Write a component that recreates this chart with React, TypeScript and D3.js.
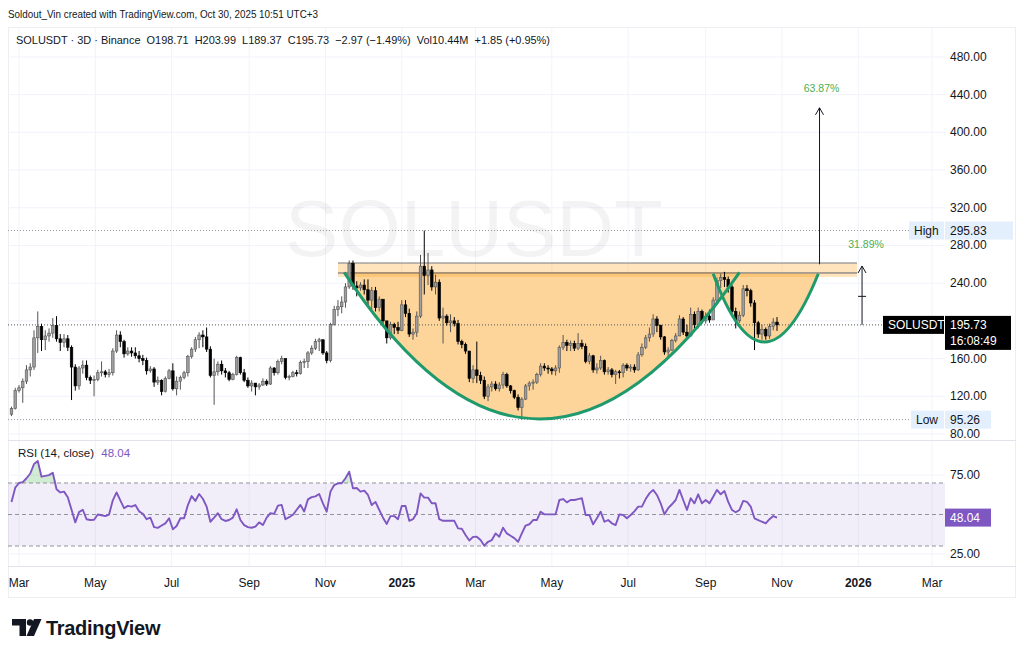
import React from "react";
import * as d3 from "d3";

// 3D candles, SOLUSDT Binance, Feb 24 2024 -> Oct 28 2025 (open = previous close)
const FIRST_OPEN = 101;
const CLOSE = [
  107, 126, 129, 136, 148, 151, 182, 194, 180, 184, 187, 195, 181, 177, 181, 172, 151, 131, 150, 153,
  140, 137, 138, 145, 146, 143, 145, 168, 185, 178, 165, 168, 166, 163, 160, 158, 147, 149, 135, 137,
  125, 139, 147, 128, 136, 140, 145, 162, 170, 180, 185, 183, 170, 142, 146, 154, 147, 145, 138, 143,
  161, 145, 137, 131, 134, 130, 132, 136, 133, 150, 145, 157, 160, 140, 141, 145, 144, 156, 157, 166,
  171, 178, 180, 166, 158, 196, 212, 215, 220, 236, 261, 237, 235, 238, 233, 222, 232, 214, 223, 200,
  182, 196, 193, 190, 217, 208, 186, 188, 205, 258, 248, 254, 236, 241, 203, 205, 198, 200, 197, 178,
  175, 168, 139, 148, 142, 137, 120, 130, 133, 128, 132, 143, 131, 126, 119, 108, 117, 131, 134, 135,
  143, 152, 150, 149, 147, 150, 172, 177, 174, 176, 171, 176, 173, 157, 163, 148, 150, 158, 146, 148,
  143, 146, 145, 153, 150, 151, 148, 164, 172, 182, 186, 202, 195, 183, 167, 169, 179, 184, 202, 188,
  184, 207, 196, 210, 200, 205, 201, 222, 243, 246, 244, 236, 210, 200, 206, 234, 232, 219, 198, 186,
  191, 184, 194, 198.71, 195.73,
];
const HIGH = [
  109, 129, 132, 139, 153, 155, 190, 210, 197, 190, 192, 203, 205, 186, 186, 185, 174, 154, 152, 158,
  158, 142, 142, 148, 157, 148, 149, 171, 190, 189, 180, 172, 172, 172, 168, 164, 161, 152, 151, 141,
  138, 141, 149, 155, 141, 142, 147, 164, 172, 183, 188, 190, 193, 173, 160, 157, 158, 150, 147, 145,
  163, 162, 149, 140, 137, 134, 134, 139, 138, 152, 151, 159, 163, 160, 143, 147, 148, 158, 160, 168,
  174, 181, 182, 180, 168, 198, 216, 222, 226, 240, 264, 264, 242, 241, 244, 244, 236, 236, 226, 222,
  200, 199, 198, 199, 222, 222, 213, 192, 210, 270, 295.83, 272, 258, 249, 244, 214, 207, 207, 204, 201,
  180, 177, 168, 153, 178, 146, 141, 133, 136, 136, 135, 146, 145, 132, 127, 122, 119, 133, 136, 138,
  145, 155, 155, 153, 151, 153, 174, 185, 180, 179, 179, 187, 180, 176, 166, 164, 155, 163, 159, 151,
  150, 148, 148, 155, 155, 154, 154, 167, 176, 185, 193, 207, 205, 196, 184, 172, 181, 187, 206, 204,
  196, 214, 210, 214, 212, 209, 212, 225, 246, 250, 252, 247, 238, 214, 210, 238, 238, 234, 222, 200,
  196, 193, 197, 203, 203.99,
];
const LOW = [
  99, 106, 124, 113, 133, 141, 148, 166, 168, 169, 178, 182, 178, 168, 172, 168, 116, 126, 127, 144,
  137, 133, 120, 136, 141, 140, 140, 142, 166, 172, 161, 163, 162, 160, 156, 153, 143, 145, 130, 132,
  121, 124, 138, 126, 121, 127, 138, 141, 160, 167, 171, 172, 167, 140, 111, 142, 143, 140, 136, 137,
  142, 143, 135, 129, 125, 121, 127, 131, 131, 132, 142, 143, 154, 138, 137, 140, 141, 143, 150, 150,
  164, 169, 168, 164, 155, 156, 195, 205, 208, 214, 234, 233, 226, 232, 228, 215, 212, 210, 210, 196,
  176, 180, 186, 186, 189, 204, 183, 180, 183, 203, 228, 238, 232, 228, 200, 176, 195, 188, 194, 175,
  171, 165, 135, 134, 134, 133, 117, 115, 125, 126, 125, 128, 129, 123, 117, 105, 95.26, 116, 126, 127,
  133, 141, 147, 144, 143, 142, 145, 169, 168, 168, 168, 169, 170, 155, 154, 145, 144, 148, 143, 143,
  140, 133, 139, 140, 147, 146, 145, 147, 162, 170, 178, 183, 188, 180, 164, 161, 168, 177, 184, 185,
  181, 183, 192, 192, 197, 197, 198, 202, 218, 235, 236, 230, 205, 192, 198, 204, 226, 215, 169, 182,
  180, 180, 181, 190, 189.37,
];
const RSI = [
  58, 67, 70, 70.5, 73, 76, 82, 84, 74, 74.5, 75, 76.5, 66, 64, 64.5, 61, 53, 45, 51.5, 53,
  47, 46.5, 46.7, 50, 49.5, 49, 50, 59, 64, 59, 54, 55.5, 55, 56, 52, 50.5, 47, 48, 42, 41.5,
  43, 44.4, 47.6, 40.6, 42.7, 47.6, 47.6, 56, 61.7, 58.6, 63, 60, 55, 45.4, 48, 50.8, 47, 45.9, 46.5, 48,
  53.3, 46.5, 43.3, 42, 41.6, 42.3, 45, 43.3, 48, 50.8, 50.4, 55.6, 56.1, 47, 48.3, 49.8, 53, 56.1, 51.9, 59.6,
  61, 61.5, 63, 57, 51.8, 64.5, 68.7, 69.8, 69.8, 73, 77.2, 66.6, 66.8, 64.5, 65.2, 62.4, 56, 58, 52.9, 48,
  44, 49, 49, 47, 55.4, 55.4, 46, 47, 50.8, 63.4, 60.7, 60.7, 57.1, 57.1, 47, 46, 46, 46, 46, 41.2,
  41, 37, 33.5, 35.8, 35.9, 33.8, 30.2, 32.7, 33.8, 38, 35.9, 41.6, 38, 36.5, 35, 32.7, 38, 43, 43.8, 46.5,
  46.5, 51.8, 50.1, 50.1, 50.1, 50.1, 59.2, 59.8, 57.7, 59.2, 59.2, 59.8, 60.3, 49.7, 49.7, 43.8, 47.6, 51.8, 45.4, 46.5,
  44.4, 43.3, 50.1, 49.7, 47.6, 49.7, 52, 55, 55, 59.8, 63.4, 65.6, 62.4, 57.1, 50.1, 54, 56.5, 59.2, 65.6, 59.2,
  52.9, 60.3, 57.1, 62.8, 57.1, 59.2, 57.1, 61.3, 65.6, 62.8, 64.9, 58, 52.9, 51.4, 52.9, 58.6, 58, 55, 47.6, 46.5,
  45.4, 44.4, 47, 49, 48.04,
];

const PRICE_TICKS = [80, 120, 160, 200, 240, 280, 320, 360, 400, 440, 480];
const PRICE_TICK_LABELS = [80, 120, 160, 240, 280, 320, 360, 400, 440, 480];
const RSI_LEVELS = [70, 50, 30];
const RSI_TICKS = [25, 75];
const TIME_TICK_DATES = [
  "2024-03-01", "2024-05-01", "2024-07-01", "2024-09-01", "2024-11-01", "2025-01-01", "2025-03-01",
  "2025-05-01", "2025-07-01", "2025-09-01", "2025-11-01", "2026-01-01", "2026-03-01",
];
const TIME_TICK_LABELS = ["Mar", "May", "Jul", "Sep", "Nov", "2025", "Mar", "May", "Jul", "Sep", "Nov", "2026", "Mar"];

// drawings: [date, price]
const CUP = [["2024-11-16", 251.5], ["2025-04-21", 95.9], ["2025-09-28", 251.5]];
const HANDLE = [["2025-09-07", 250], ["2025-10-18", 177.6], ["2025-11-30", 250]];
const ZONE = { from: "2024-11-11", to: "2025-12-31", top: 261.4, mid: 250.8, bottom: 246.6 };
const TARGET = { date: "2025-12-01", from: 260, to: 426, label: "63.87%" };
const MEASURE = { date: "2026-01-04", from: 195.73, to: 258.2, tick: 226, label: "31.89%" };

const LAST = 195.73;
const HIGH_MARK = 295.83;
const LOW_MARK = 95.26;

const FONT = "'Liberation Sans', Arial, sans-serif";
const INK = "#131722";
const GRID = "#f0f3fa";
const PLOT_L = 8;
const PLOT_R = 945;

const day = (s: string) => new Date(s + "T00:00:00Z");
const START = Date.UTC(2024, 1, 24);
const candleDates = CLOSE.map((_, i) => new Date(START + i * 3 * 86400000));

export default function App() {
  const x = d3.scaleUtc().domain([day("2024-03-01"), day("2025-10-28")]).range([19, 777]);
  const y = d3.scaleLinear().domain([80, 480]).range([434, 56.9]);
  const yr = d3.scaleLinear().domain([25, 75]).range([553.9, 475.1]);

  const rsiLine = d3.line<number>().x((_, i) => x(candleDates[i])).y((v) => yr(v));
  const obArea = d3
    .area<number>()
    .x((_, i) => x(candleDates[i]))
    .y0(yr(70))
    .y1((v) => yr(Math.max(v, 70)));

  const bowl = (pts: (string | number)[][]) => {
    const [a, b, c] = pts.map(([d, p]) => [x(day(d as string)), y(p as number)]);
    const cx = 2 * b[0] - (a[0] + c[0]) / 2;
    const cy = 2 * b[1] - (a[1] + c[1]) / 2;
    const p = d3.path();
    p.moveTo(a[0], a[1]);
    p.quadraticCurveTo(cx, cy, c[0], c[1]);
    return p.toString();
  };
  const cupD = bowl(CUP);
  const handleD = bowl(HANDLE);

  const zx0 = x(day(ZONE.from));
  const zx1 = x(day(ZONE.to));
  const tx = x(day(TARGET.date));
  const mx = x(day(MEASURE.date));

  const arrowHead = (ax: number, ay: number) => `M${ax - 4},${ay + 7}L${ax},${ay}L${ax + 4},${ay + 7}`;

  return (
    <svg width={1024} height={655} style={{ position: "absolute", left: 0, top: 0, background: "#fff" }} fontFamily={FONT}>
      <rect width={1024} height={655} fill="#fff" />
      <text x={8} y={18} fontSize={11.5} fill={INK} textLength={310} lengthAdjust="spacingAndGlyphs">
        Soldout_Vin created with TradingView.com, Oct 30, 2025 10:51 UTC+3
      </text>
      <rect x={8.5} y={27.5} width={1007} height={570} fill="none" stroke="#eceef2" />

      {/* grid */}
      {TIME_TICK_DATES.map((d) => (
        <line key={d} x1={x(day(d))} x2={x(day(d))} y1={28} y2={566} stroke={GRID} />
      ))}
      {PRICE_TICKS.map((p) => (
        <line key={p} x1={PLOT_L} x2={PLOT_R} y1={y(p)} y2={y(p)} stroke={GRID} />
      ))}
      {RSI_TICKS.map((v) => (
        <line key={v} x1={PLOT_L} x2={PLOT_R} y1={yr(v)} y2={yr(v)} stroke={GRID} />
      ))}

      {/* watermark */}
      <text x={474} y={256} fontSize={80} textAnchor="middle" fill={INK} fillOpacity={0.05}>
        SOLUSDT
      </text>

      {/* cup and handle fill */}
      <path d={cupD + "Z"} fill="#fdd49a" />
      <path d={handleD + "Z"} fill="#fdd49a" />
      <rect x={zx0} y={y(ZONE.top)} width={zx1 - zx0} height={y(ZONE.bottom) - y(ZONE.top)} fill="rgba(255,167,38,0.3)" />
      <line x1={zx0} x2={zx1} y1={y(ZONE.top)} y2={y(ZONE.top)} stroke="#787b86" strokeWidth={1.2} />
      <line x1={zx0} x2={zx1} y1={y(ZONE.mid)} y2={y(ZONE.mid)} stroke="#5d606b" strokeWidth={1} />

      {/* reference lines */}
      <line x1={PLOT_L} x2={910} y1={y(HIGH_MARK)} y2={y(HIGH_MARK)} stroke="#9598a1" strokeDasharray="1 2" />
      <line x1={PLOT_L} x2={912} y1={y(LOW_MARK)} y2={y(LOW_MARK)} stroke="#9598a1" strokeDasharray="1 2" />
      <line x1={PLOT_L} x2={883} y1={y(LAST)} y2={y(LAST)} stroke="#555" strokeDasharray="1 2" />

      {/* candles */}
      {CLOSE.map((c, i) => {
        const o = i === 0 ? FIRST_OPEN : CLOSE[i - 1];
        const cx = x(candleDates[i]);
        const up = c >= o;
        const top = y(Math.max(o, c));
        const h = Math.max(1, y(Math.min(o, c)) - top);
        const col = up ? "#555" : "#000";
        return (
          <g key={i}>
            <line x1={cx} x2={cx} y1={y(HIGH[i])} y2={y(LOW[i])} stroke={col} strokeWidth={1} />
            <rect x={cx - 1.3} y={top} width={2.6} height={h} fill={up ? "#9e9e9e" : "#000"} stroke={col} strokeWidth={0.6} />
          </g>
        );
      })}

      {/* cup and handle outline */}
      <path d={cupD} fill="none" stroke="#1f9a6c" strokeWidth={3} />
      <path d={handleD} fill="none" stroke="#1f9a6c" strokeWidth={3} />

      {/* projections */}
      <line x1={tx} x2={tx} y1={y(TARGET.from)} y2={y(TARGET.to)} stroke={INK} strokeWidth={1} />
      <path d={arrowHead(tx, y(TARGET.to))} fill="none" stroke={INK} />
      <text x={tx + 2} y={y(TARGET.to) - 16} fontSize={10.5} fill="#4caf50" textAnchor="middle">
        {TARGET.label}
      </text>
      <line x1={mx} x2={mx} y1={y(MEASURE.from)} y2={y(MEASURE.to)} stroke={INK} strokeWidth={1} />
      <path d={arrowHead(mx, y(MEASURE.to))} fill="none" stroke={INK} />
      <line x1={mx - 4} x2={mx + 4} y1={y(MEASURE.tick)} y2={y(MEASURE.tick)} stroke={INK} />
      <text x={mx + 4} y={y(MEASURE.to) - 18} fontSize={10.5} fill="#4caf50" textAnchor="middle">
        {MEASURE.label}
      </text>

      {/* header */}
      <text x={16} y={44} fontSize={11.5} fill={INK} textLength={534} lengthAdjust="spacingAndGlyphs" xmlSpace="preserve">
        SOLUSDT · 3D · Binance  O198.71  H203.99  L189.37  C195.73  −2.97 (−1.49%)  Vol10.44M  +1.85 (+0.95%)
      </text>

      {/* price axis */}
      {PRICE_TICK_LABELS.map((p) => (
        <text key={p} x={950} y={y(p) + 4} fontSize={12} fill={INK}>
          {p.toFixed(2)}
        </text>
      ))}
      <rect x={909} y={y(HIGH_MARK) - 9} width={35} height={18} fill="#e3effd" />
      <text x={914} y={y(HIGH_MARK) + 4} fontSize={12} fill={INK}>High</text>
      <rect x={945} y={y(HIGH_MARK) - 9} width={68} height={18} fill="#e3effd" />
      <text x={950} y={y(HIGH_MARK) + 4} fontSize={12} fill={INK}>{HIGH_MARK.toFixed(2)}</text>
      <rect x={911} y={y(LOW_MARK) - 9} width={33} height={18} fill="#e3effd" />
      <text x={916} y={y(LOW_MARK) + 4} fontSize={12} fill={INK}>Low</text>
      <rect x={945} y={y(LOW_MARK) - 9} width={46} height={18} fill="#e3effd" />
      <text x={950} y={y(LOW_MARK) + 4} fontSize={12} fill={INK}>{LOW_MARK.toFixed(2)}</text>
      <rect x={883} y={y(LAST) - 9} width={61} height={18} fill="#000" />
      <text x={888} y={y(LAST) + 4} fontSize={12} fill="#fff">SOLUSDT</text>
      <rect x={945} y={y(LAST) - 9} width={66} height={34} fill="#000" />
      <text x={950} y={y(LAST) + 4} fontSize={12} fill="#fff">{LAST.toFixed(2)}</text>
      <text x={950} y={y(LAST) + 20} fontSize={12} fill="#fff">16:08:49</text>

      {/* pane separators */}
      <line x1={8} x2={1016} y1={440.5} y2={440.5} stroke="#e0e3eb" />
      <line x1={8} x2={1016} y1={566.5} y2={566.5} stroke="#e0e3eb" />

      {/* RSI pane */}
      <rect x={PLOT_L} y={yr(70)} width={PLOT_R - PLOT_L} height={yr(30) - yr(70)} fill="#7e57c2" fillOpacity={0.1} />
      {RSI_LEVELS.map((v) => (
        <line key={v} x1={PLOT_L} x2={PLOT_R} y1={yr(v)} y2={yr(v)} stroke="#787b86" strokeDasharray="4 3" strokeOpacity={0.8} />
      ))}
      <path d={obArea(RSI) ?? ""} fill="rgba(76,175,80,0.25)" />
      <path d={rsiLine(RSI) ?? ""} fill="none" stroke="#7e57c2" strokeWidth={1.9} strokeLinejoin="round" />
      <text x={18} y={457} fontSize={11.5} fill={INK}>
        RSI (14, close) <tspan fill="#7e57c2" dx={4}>48.04</tspan>
      </text>
      {RSI_TICKS.map((v) => (
        <text key={v} x={950} y={yr(v) + 4} fontSize={12} fill={INK}>
          {v.toFixed(2)}
        </text>
      ))}
      <rect x={945} y={yr(RSI[RSI.length - 1]) - 9} width={46} height={18} fill="#7e57c2" />
      <text x={950} y={yr(RSI[RSI.length - 1]) + 4} fontSize={12} fill="#fff">
        {RSI[RSI.length - 1].toFixed(2)}
      </text>

      {/* time axis */}
      {TIME_TICK_DATES.map((d, i) => (
        <text
          key={d}
          x={x(day(d))}
          y={587}
          fontSize={12}
          textAnchor="middle"
          fill={INK}
          fontWeight={TIME_TICK_LABELS[i].length === 4 ? 700 : 400}
        >
          {TIME_TICK_LABELS[i]}
        </text>
      ))}

      {/* logo */}
      <path d="M12,619H26V636H19.5V625.5H12Z" fill={INK} />
      <circle cx={30} cy={622.5} r={3.2} fill={INK} />
      <path d="M34,619H41.5L34,636H26.5Z" fill={INK} />
      <text x={46} y={635} fontSize={20} fontWeight={600} fill={INK} letterSpacing={-0.3}>
        TradingView
      </text>
    </svg>
  );
}
